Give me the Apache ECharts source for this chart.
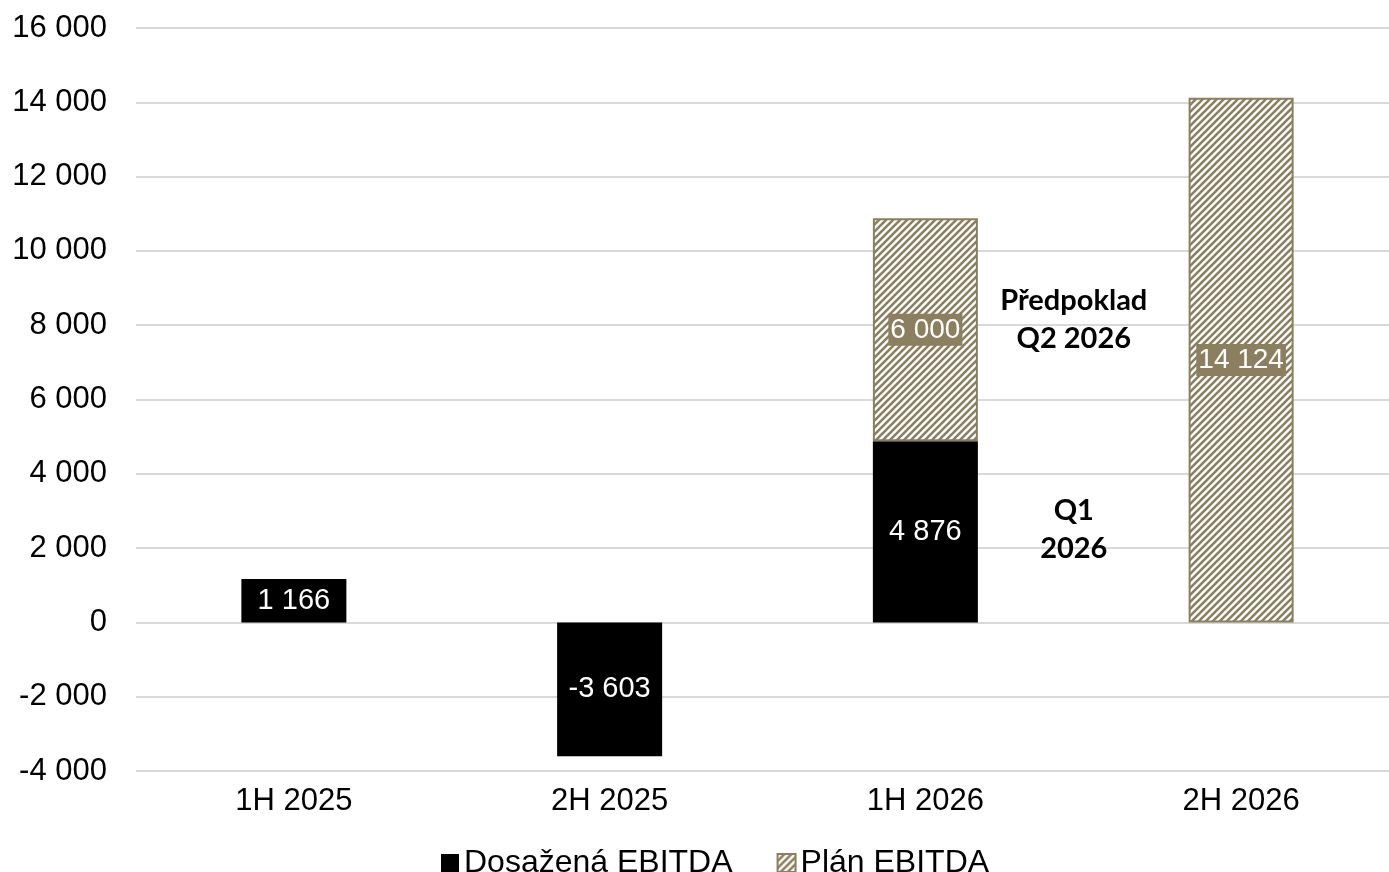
<!DOCTYPE html>
<html><head><meta charset="utf-8">
<script src="https://cdn.jsdelivr.net/npm/echarts@6/dist/echarts.min.js"></script>
<style>html,body{margin:0;padding:0;background:#fff}#c{width:1389px;height:872px}</style>
</head><body><div id="c"></div>
<script>
const categories = ['1H 2025', '2H 2025', '1H 2026', '2H 2026'];
const achieved = [1166, -3603, 4876, null];
const plan = [null, null, 6000, 14124];
const seriesNames = ['Dosažená EBITDA', 'Plán EBITDA'];
const annotations = [
  {text: 'Předpoklad\nQ2 2026', cat: 2, value: 8150},
  {text: 'Q1\n2026', cat: 2, value: 2500}
];

const olive = '#8C7F5F';
function hatch() {
  const s = 7, c = document.createElement('canvas');
  c.width = s; c.height = s;
  const g = c.getContext('2d');
  g.fillStyle = '#fff'; g.fillRect(0, 0, s, s);
  g.strokeStyle = olive; g.lineWidth = 2.6;
  g.beginPath();
  g.moveTo(-2, s + 2); g.lineTo(s + 2, -2);
  g.moveTo(-2, 2); g.lineTo(2, -2);
  g.moveTo(s - 2, s + 2); g.lineTo(s + 2, s - 2);
  g.stroke();
  return c;
}
const fmt = v => {
  const a = Math.abs(v).toString().replace(/\B(?=(\d{3})+(?!\d))/g, ' ');
  return (v < 0 ? '-' : '') + a;
};
const font = 'Liberation Sans, Arial, sans-serif';
const chart = echarts.init(document.getElementById('c'));
chart.setOption({
  animation: false,
  grid: {left: 136, width: 1263, top: 28, bottom: 101, containLabel: false, outerBoundsMode: 'none'},
  legend: {
    left: 436, top: 842, itemWidth: 18, itemHeight: 18, itemGap: 44,
    icon: 'rect',
    textStyle: {fontFamily: font, fontSize: 32, color: '#000'},
    data: seriesNames
  },
  xAxis: {
    type: 'category', data: categories,
    axisLine: {show: false}, axisTick: {show: false},
    axisLabel: {fontFamily: font, fontSize: 31, color: '#000', margin: 15}
  },
  yAxis: {
    type: 'value', min: -4000, max: 16000, interval: 2000,
    axisLine: {show: false}, axisTick: {show: false},
    splitLine: {lineStyle: {color: '#d9d9d9', width: 2}},
    axisLabel: {fontFamily: font, fontSize: 31, color: '#000', margin: 29, formatter: fmt}
  },
  series: [
    {
      name: seriesNames[0], type: 'bar', stack: 'a', data: achieved, barWidth: 105,
      itemStyle: {color: '#000'},
      label: {show: true, position: 'inside', formatter: p => fmt(p.value),
        fontFamily: font, fontSize: 29, color: '#fff', backgroundColor: '#000', padding: [3, 4]}
    },
    {
      name: seriesNames[1], type: 'bar', stack: 'a', data: plan, barWidth: 105,
      itemStyle: {color: {image: hatch(), repeat: 'repeat'}, borderColor: olive, borderWidth: 2},
      label: {show: true, position: 'inside', formatter: p => fmt(p.value),
        fontFamily: font, fontSize: 28, color: '#fff', backgroundColor: olive, padding: [2, 2]}
    }
  ]
});
const p0 = chart.convertToPixel({xAxisIndex: 0, yAxisIndex: 0}, [2, 0]);
const p1 = chart.convertToPixel({xAxisIndex: 0, yAxisIndex: 0}, [3, 0]);
chart.setOption({
  graphic: annotations.map(a => {
    const y = chart.convertToPixel({yAxisIndex: 0}, a.value);
    return {
      type: 'text', x: p0[0] + (p1[0] - p0[0]) * 0.47, y: y,
      style: {text: a.text, fontFamily: 'Lato, sans-serif', fontWeight: 'bold', fontSize: 29,
        lineHeight: 38, fill: '#000', align: 'center', verticalAlign: 'middle'}
    };
  })
});
</script></body></html>
